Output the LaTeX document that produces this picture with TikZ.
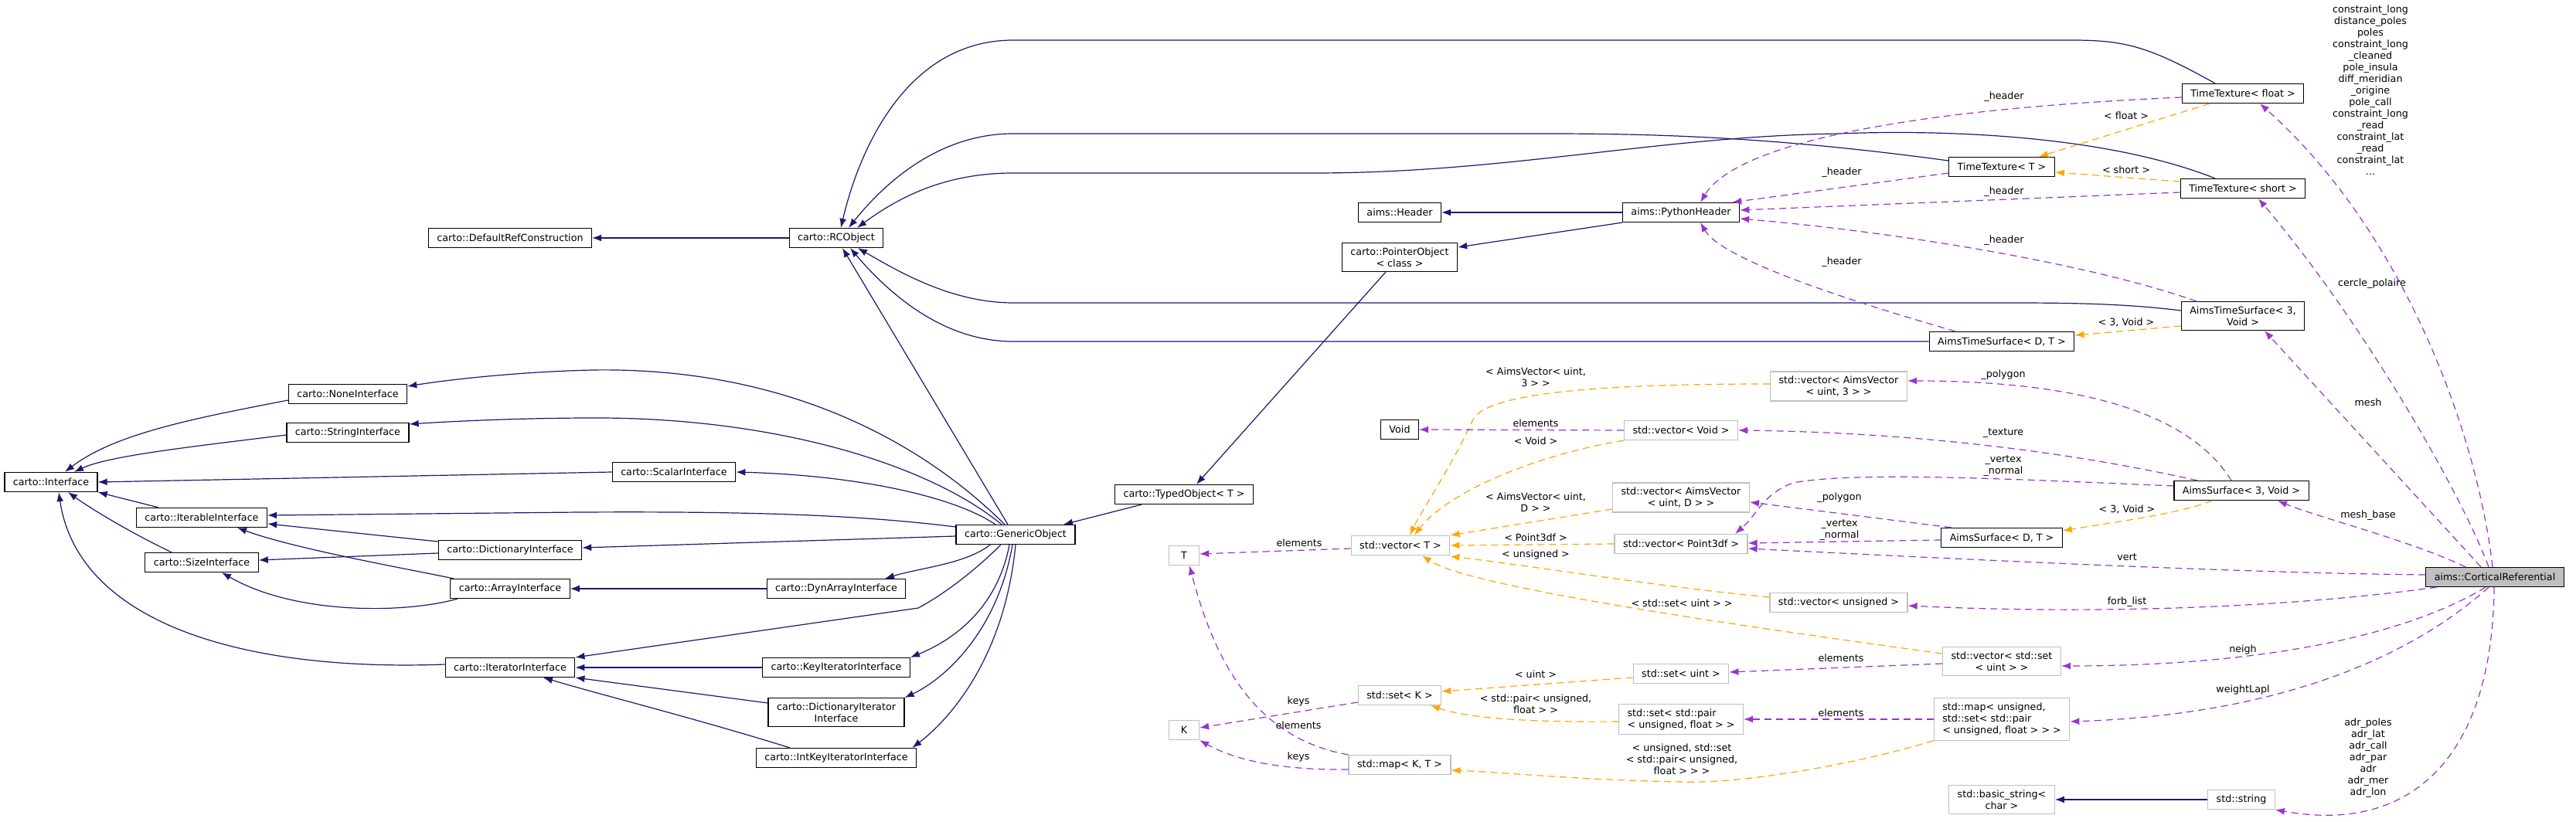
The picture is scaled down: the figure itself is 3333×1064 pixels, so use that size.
\documentclass[tikz,border=0pt]{standalone}
\usepackage{fontspec}
\setmainfont{DejaVu Sans}
\usetikzlibrary{arrows.meta}
\definecolor{inhblue}{RGB}{25,25,112}
\definecolor{memviolet}{RGB}{154,50,205}
\definecolor{tmplorange}{RGB}{255,165,0}
\definecolor{extgray}{RGB}{191,191,191}

\begin{document}
\begin{tikzpicture}[x=1pt, y=-1pt,
    every node/.append style={draw, fill=white, line width=1.2pt, font=\fontsize{12.7}{15}\selectfont,
      inner xsep=11pt, inner ysep=6pt, minimum height=25pt, align=center},
    ext/.style={draw=extgray},
    cur/.style={fill=extgray},
    lbl/.style={draw=none, fill=none, inner sep=0pt, minimum height=0pt},
    inh/.style={draw=inhblue, line width=1.2pt, -{Latex[length=12pt,width=9pt]}},
    mem/.style={draw=memviolet, line width=1.2pt, dash pattern=on 9pt off 6pt, -{Latex[length=12pt,width=9pt]}},
    tmpl/.style={draw=tmplorange, line width=1.2pt, dash pattern=on 9pt off 6pt, -{Latex[length=12pt,width=9pt]}}]
        \useasboundingbox (0,0) rectangle (3333,1064);

        % carto side
        \node (defref) at (660,308) {carto::DefaultRefConstruction};
        \node (rcobj) at (1082,308) {carto::RCObject};
        \node (none) at (450,510) {carto::NoneInterface};
        \node (string) at (450,560) {carto::StringInterface};
        \node (scalar) at (872,611) {carto::ScalarInterface};
        \node (iface) at (66,624) {carto::Interface};
        \node (iterable) at (261,670) {carto::IterableInterface};
        \node (size) at (261,728) {carto::SizeInterface};
        \node (dict) at (660,712) {carto::DictionaryInterface};
        \node (array) at (660,762) {carto::ArrayInterface};
        \node (dynarray) at (1082,762) {carto::DynArrayInterface};
        \node (generic) at (1314,692) {carto::GenericObject};
        \node (iter) at (660,864) {carto::IteratorInterface};
        \node (keyiter) at (1082,864) {carto::KeyIteratorInterface};
        \node (dictiter) at (1082,922) {carto::DictionaryIterator\\Interface};
        \node (intkeyiter) at (1082,981) {carto::IntKeyIteratorInterface};
        \node (typed) at (1532,640) {carto::TypedObject< T >};
        \node (ptrobj) at (1811,333) {carto::PointerObject\\< class >};
        \node (header) at (1811,275) {aims::Header};
        \node (pyheader) at (2175,275) {aims::PythonHeader};

        % aims side
        \node (ttfloat) at (2902,121) {TimeTexture< float >};
        \node (ttT) at (2590,216) {TimeTexture< T >};
        \node (ttshort) at (2902,244) {TimeTexture< short >};
        \node (atsVoid) at (2902,409) {AimsTimeSurface< 3,\\Void >};
        \node (atsDT) at (2590,442) {AimsTimeSurface< D, T >};
        \node (asVoid) at (2900,635) {AimsSurface< 3, Void >};
        \node (asDT) at (2590,696) {AimsSurface< D, T >};
        \node [cur] (cortical) at (3228,747) {aims::CorticalReferential};
        \node (Void) at (1811,556) {Void};

        % std side
        \node [ext] (vecAV3) at (2379,500) {std::vector< AimsVector\\< uint, 3 > >};
        \node [ext] (vecVoid) at (2175,557) {std::vector< Void >};
        \node [ext] (vecAVD) at (2175,644) {std::vector< AimsVector\\< uint, D > >};
        \node [ext] (vecP3) at (2175,704) {std::vector< Point3df >};
        \node [ext] (vecT) at (1812,706) {std::vector< T >};
        \node [ext, minimum width=39pt] (T) at (1532,719) {T};
        \node [ext] (vecUns) at (2379,780) {std::vector< unsigned >};
        \node [ext] (vecSet) at (2590,856) {std::vector< std::set\\< uint > >};
        \node [ext] (setUint) at (2175,872) {std::set< uint >};
        \node [ext] (setK) at (1811,900) {std::set< K >};
        \node [ext, align=left] (setPair) at (2175,931) {std::set< std::pair\\< unsigned, float > >};
        \node [ext, minimum width=39pt] (K) at (1532,945) {K};
        \node [ext] (mapKT) at (1811,990) {std::map< K, T >};
        \node [ext, align=left] (mapUns) at (2590,931) {std::map< unsigned,\\ std::set< std::pair\\< unsigned, float > > >};
        \node [ext] (basicstr) at (2590,1035) {std::basic\_string<\\char >};
        \node [ext] (stdstr) at (2900,1035) {std::string};

        % inheritance
        \draw [inh] (rcobj) -- (defref);
        \draw [inh] ([xshift=-36pt]ttfloat.north) .. controls (2780,60) and (2750,52) .. (2680,52) -- (1311,52) .. controls (1170,52) and (1110,200) .. ([xshift=6pt]rcobj.north);
        \draw [inh] ([yshift=8pt]ttT.west) .. controls (2300,178) and (2150,173) .. (2000,173) -- (1311,173) .. controls (1220,173) and (1150,230) .. ([xshift=16pt]rcobj.north);
        \draw [inh] ([xshift=-36pt]ttshort.north) .. controls (2700,165) and (2450,170) .. (2380,173) .. controls (2150,176) and (1950,224) .. (1700,224) -- (1311,224) .. controls (1230,224) and (1170,250) .. ([xshift=27pt]rcobj.north);
        \draw [inh] ([yshift=7pt]atsVoid.west) .. controls (2750,393) and (2680,392) .. (2600,392) -- (1311,392) .. controls (1230,392) and (1160,350) .. ([xshift=28pt]rcobj.south);
        \draw [inh] (atsDT.west) -- (1311,442) .. controls (1220,442) and (1150,380) .. ([xshift=18pt]rcobj.south);
        \draw [inh] ([xshift=-10pt]generic.north) -- ([xshift=8pt]rcobj.south);
        \draw [inh] (pyheader) -- (header);
        \draw [inh] (pyheader.south west) -- ([yshift=13pt]ptrobj.east);
        \draw [inh] ([xshift=-18pt]ptrobj.south) -- ([xshift=16pt]typed.north);
        \draw [inh] ([xshift=-55pt]typed.south) -- ([xshift=62pt]generic.north);
        \draw [inh] ([xshift=-14pt]generic.north) .. controls (1180,560) and (1000,475) .. (766,479) .. controls (680,481) and (590,490) .. ([yshift=10pt]none.east);
        \draw [inh] ([xshift=-18pt]generic.north) .. controls (1200,600) and (1000,540) .. (766,541) .. controls (680,541) and (590,545) .. ([yshift=11pt]string.east);
        \draw [inh] ([xshift=-26pt]generic.north) .. controls (1230,640) and (1100,615) .. (scalar.east);
        \draw [inh] ([yshift=10pt]generic.west) .. controls (1100,665) and (950,662) .. (750,663) -- ([yshift=3pt]iterable.east);
        \draw [inh] ([yshift=-2pt]generic.west) -- ([yshift=3pt]dict.east);
        \draw [inh] ([xshift=-33pt]generic.south) .. controls (1250,730) and (1190,735) .. ([xshift=63pt]dynarray.north);
        \draw [inh] ([xshift=-19pt]generic.south) .. controls (1260,740) and (1220,770) .. (1188,787) -- (iter.north east);
        \draw [inh] ([xshift=-8pt]generic.south) .. controls (1290,790) and (1230,830) .. (keyiter.north east);
        \draw [inh] ([xshift=-4pt]generic.south) .. controls (1290,820) and (1220,880) .. (dictiter.north east);
        \draw [inh] (generic.south) .. controls (1300,850) and (1230,930) .. ([xshift=-6pt]intkeyiter.north east);
        \draw [inh] ([yshift=-8pt]none.west) .. controls (260,540) and (150,560) .. ([xshift=18pt]iface.north);
        \draw [inh] ([yshift=-3pt]string.west) .. controls (250,578) and (140,590) .. ([xshift=30pt]iface.north);
        \draw [inh] (scalar.west) -- (iface.east);
        \draw [inh] ([xshift=-56pt]iterable.north) -- (iface.south east);
        \draw [inh] ([xshift=-39pt]size.north) .. controls (170,690) and (120,660) .. ([xshift=22pt]iface.south);
        \draw [inh] ([yshift=4pt]iter.west) .. controls (300,870) and (100,800) .. ([xshift=10pt]iface.south);
        \draw [inh] ([yshift=11pt]dict.west) -- ([yshift=-8pt]iterable.east);
        \draw [inh] ([yshift=-4pt]dict.west) -- ([yshift=3pt]size.east);
        \draw [inh] ([xshift=-73pt]array.north) .. controls (520,735) and (380,710) .. ([xshift=46pt]iterable.south);
        \draw [inh] ([xshift=-68pt]array.south) .. controls (520,795) and (380,795) .. ([xshift=26pt]size.south);
        \draw [inh] (dynarray) -- (array);
        \draw [inh] (keyiter) -- (iter);
        \draw [inh] ([yshift=12pt]dictiter.west) -- (iter.south east);
        \draw [inh] ([xshift=-60pt]intkeyiter.north) .. controls (900,930) and (780,900) .. ([xshift=43pt]iter.south);
        \draw [inh] (stdstr) -- (basicstr);

        % template instances
        \draw [tmpl] ([xshift=-43pt]ttfloat.south) -- ([xshift=48pt]ttT.north);
        \draw [tmpl] ([yshift=9pt]ttshort.west) -- ([yshift=-7pt]ttT.east);
        \draw [tmpl] ([yshift=-13pt]atsVoid.west) -- ([yshift=8pt]atsDT.east);
        \draw [tmpl] ([xshift=-38pt]asVoid.south) .. controls (2820,665) and (2740,675) .. ([yshift=9pt]asDT.east);
        \draw [tmpl] ([yshift=3pt]vecAV3.west) .. controls (2100,497) and (1920,505) .. (1905,545) .. controls (1880,600) and (1840,660) .. ([xshift=12pt]vecT.north);
        \draw [tmpl] (vecVoid.south west) .. controls (1980,590) and (1870,640) .. ([xshift=18pt]vecT.north);
        \draw [tmpl] ([yshift=-15pt]vecAVD.west) -- (vecT.north east);
        \draw [tmpl] (vecP3.west) -- (vecT.east);
        \draw [tmpl] ([yshift=7pt]vecUns.west) .. controls (2150,760) and (2000,735) .. ([yshift=-14pt]vecT.east);
        \draw [tmpl] ([yshift=10pt]vecSet.west) .. controls (2250,810) and (1900,760) .. ([xshift=28pt]vecT.south);
        \draw [tmpl] ([yshift=-5pt]setUint.west) -- ([yshift=5pt]setK.east);
        \draw [tmpl] ([yshift=-3pt]setPair.west) .. controls (1980,935) and (1900,930) .. ([xshift=40pt]setK.south);
        \draw [tmpl] (mapUns.south west) .. controls (2400,990) and (2250,1015) .. (2176,1012) .. controls (2050,1010) and (1950,1000) .. ([yshift=-7pt]mapKT.east);

        % members
        \draw [mem] ([yshift=-5pt]ttfloat.west) .. controls (2500,140) and (2250,180) .. ([xshift=25pt]pyheader.north);
        \draw [mem] ([yshift=-8pt]ttT.west) -- ([xshift=-10pt]pyheader.north east);
        \draw [mem] ([yshift=-5pt]ttshort.west) -- ([yshift=3pt]pyheader.east);
        \draw [mem] ([xshift=-60pt]atsVoid.north) .. controls (2700,340) and (2450,300) .. ([yshift=-8pt]pyheader.east);
        \draw [mem] ([xshift=-60pt]atsDT.north) .. controls (2430,400) and (2230,340) .. ([xshift=25pt]pyheader.south);
        \draw [mem] ([xshift=-3pt]cortical.north) .. controls (3205,560) and (3110,300) .. ([xshift=22pt]ttfloat.south);
        \draw [mem] ([xshift=-8pt]cortical.north) .. controls (3185,640) and (3060,420) .. ([xshift=20pt]ttshort.south);
        \draw [mem] ([xshift=-18pt]cortical.north) -- ([xshift=28pt]atsVoid.south);
        \draw [mem] ([xshift=-38pt]cortical.north) .. controls (3120,700) and (3000,670) .. ([xshift=47pt]asVoid.south);
        \draw [mem] ([yshift=3pt]cortical.west) .. controls (2900,742) and (2500,722) .. ([yshift=-6pt]vecP3.east);
        \draw [mem] ([xshift=-75pt]cortical.south) .. controls (2950,788) and (2700,795) .. ([yshift=-4pt]vecUns.east);
        \draw [mem] ([xshift=-12pt]cortical.south) .. controls (3100,830) and (2900,862) .. ([yshift=-6pt]vecSet.east);
        \draw [mem] ([xshift=-8pt]cortical.south) .. controls (3120,850) and (2950,925) .. ([yshift=-3pt]mapUns.east);
        \draw [mem] ([xshift=-1pt]cortical.south) .. controls (3225,980) and (3120,1080) .. (stdstr.south east);
        \draw [mem] ([xshift=-13pt]asVoid.north) .. controls (2830,530) and (2680,493) .. ([yshift=7pt]vecAV3.east);
        \draw [mem] ([xshift=-57pt]asVoid.north) .. controls (2700,590) and (2500,560) .. (vecVoid.east);
        \draw [mem] ([yshift=6pt]asVoid.west) .. controls (2600,620) and (2400,610) .. (2320,625) .. controls (2280,640) and (2275,665) .. ([xshift=70pt]vecP3.north);
        \draw [mem] ([xshift=-65pt]asDT.north) -- ([yshift=-6pt]vecAVD.east);
        \draw [mem] ([yshift=-3pt]asDT.west) -- ([yshift=1pt]vecP3.east);
        \draw [mem] (vecVoid.west) -- (Void.east);
        \draw [mem] ([yshift=-4pt]vecT.west) -- ([yshift=2pt]T.east);
        \draw [mem] ([yshift=-3pt]vecSet.west) -- ([yshift=2pt]setUint.east);
        \draw [mem] (mapUns.west) -- (setPair.east);
        \draw [mem] ([yshift=-9pt]setK.west) -- ([yshift=3pt]K.east);
        \draw [mem] (mapKT.north west) .. controls (1620,955) and (1570,850) .. ([xshift=7pt]T.south);
        \draw [mem] ([yshift=-6pt]mapKT.west) .. controls (1660,997) and (1600,985) .. (K.south east);

        % edge labels
        \node [lbl] (lFloat) at (2751,150) {< float >};
        \node [lbl] (lShort) at (2751,220) {< short >};
        \node [lbl] (lAts) at (2751,417) {< 3, Void >};
        \node [lbl] (lAs) at (2752,659) {< 3, Void >};
        \node [lbl] (lAV3) at (1987,488) {< AimsVector< uint,\\3 > >};
        \node [lbl] (lVoidT) at (1987,571) {< Void >};
        \node [lbl] (lAVD) at (1987,650) {< AimsVector< uint,\\D > >};
        \node [lbl] (lP3) at (1987,696) {< Point3df >};
        \node [lbl] (lUns) at (1987,718) {< unsigned >};
        \node [lbl] (lSetUint) at (2176,781) {< std::set< uint > >};
        \node [lbl] (lUint) at (1987,873) {< uint >};
        \node [lbl] (lPair) at (1987,911) {< std::pair< unsigned,\\float > >};
        \node [lbl] (lMapUns) at (2176,983) {< unsigned, std::set\\< std::pair< unsigned,\\float > > >};
        \node [lbl] (lHdrA) at (2593,125) {\_header};
        \node [lbl] (lHdrB) at (2383,223) {\_header};
        \node [lbl] (lHdrC) at (2593,248) {\_header};
        \node [lbl] (lHdrD) at (2593,311) {\_header};
        \node [lbl] (lHdrE) at (2383,339) {\_header};
        \node [lbl] (lLong) at (3067,117) {constraint\_long\\distance\_poles\\poles\\constraint\_long\\\_cleaned\\pole\_insula\\diff\_meridian\\\_origine\\pole\_call\\constraint\_long\\\_read\\constraint\_lat\\\_read\\constraint\_lat\\...};
        \node [lbl] (lCercle) at (3069,367) {cercle\_polaire};
        \node [lbl] (lMesh) at (3064,521) {mesh};
        \node [lbl] (lMeshBase) at (3064,667) {mesh\_base};
        \node [lbl] (lVert) at (2752,721) {vert};
        \node [lbl] (lForb) at (2752,779) {forb\_list};
        \node [lbl] (lNeigh) at (2902,841) {neigh};
        \node [lbl] (lWeight) at (2902,893) {weightLapl};
        \node [lbl] (lAdr) at (3064,981) {adr\_poles\\adr\_lat\\adr\_call\\adr\_par\\adr\\adr\_mer\\adr\_lon};
        \node [lbl] (lPolyA) at (2592,485) {\_polygon};
        \node [lbl] (lTex) at (2592,561) {\_texture};
        \node [lbl] (lVnA) at (2592,603) {\_vertex\\\_normal};
        \node [lbl] (lPolyB) at (2380,644) {\_polygon};
        \node [lbl] (lVnB) at (2380,686) {\_vertex\\\_normal};
        \node [lbl] (lElVoid) at (1987,548) {elements};
        \node [lbl] (lElT) at (1681,703) {elements};
        \node [lbl] (lElSet) at (2382,852) {elements};
        \node [lbl] (lElPair) at (2382,923) {elements};
        \node [lbl] (lKeysSet) at (1680,908) {keys};
        \node [lbl] (lElMap) at (1680,939) {elements};
        \node [lbl] (lKeysMap) at (1680,980) {keys};
    \end{tikzpicture}
\end{document}
